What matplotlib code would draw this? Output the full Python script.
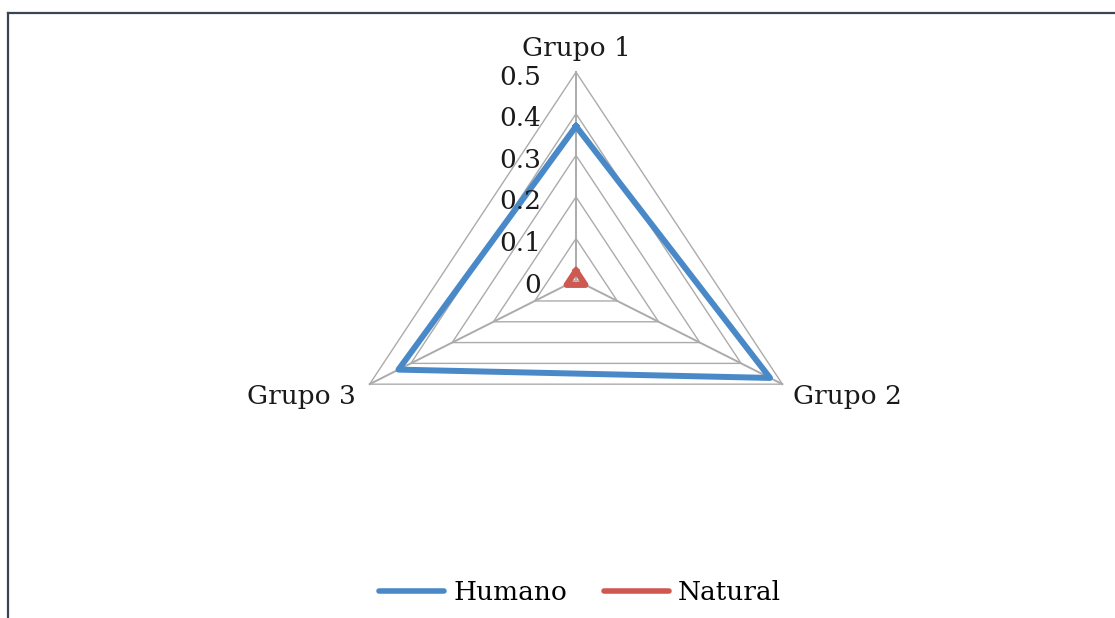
import numpy as np
import matplotlib.pyplot as plt
from matplotlib.lines import Line2D

# categories and series values
grupos = ['Grupo 1', 'Grupo 2', 'Grupo 3']
humano = [0.37, 0.47, 0.43]
natural = [0.023, 0.023, 0.023]
niveles = [0.1, 0.2, 0.3, 0.4, 0.5]
etiquetas_nivel = ['0', '0.1', '0.2', '0.3', '0.4', '0.5']

plt.rcParams['font.family'] = ['DejaVu Serif']

# angles: Grupo 1 on top, going clockwise
ang = np.deg2rad([90, -30, 210])


def to_xy(vals):
    v = np.asarray(vals, dtype=float)
    x = v * np.cos(ang)
    y = v * np.sin(ang)
    return np.append(x, x[0]), np.append(y, y[0])


fig = plt.figure(figsize=(11.15, 6.18), dpi=100)
# axes stretched a little horizontally, like the original Excel chart
ax = fig.add_axes([0.2601, 0.3447, 0.513, 0.5722])
ax.set_xlim(-0.6, 0.6)
ax.set_ylim(-0.3, 0.55)
ax.axis('off')

fs = 19
txt_color = '#1a1a1a'
blue = '#4a89c8'
red = '#cd5951'
grid_color = '#ababab'

for lv in niveles:
    gx, gy = to_xy([lv] * 3)
    ax.plot(gx, gy, color=grid_color, lw=1.0, zorder=1)
for a in ang:
    ax.plot([0, 0.5 * np.cos(a)], [0, 0.5 * np.sin(a)], color=grid_color, lw=1.4, zorder=1)

hx, hy = to_xy(humano)
ax.plot(hx, hy, color=blue, lw=4.3, solid_joinstyle='round', zorder=3)
nx, ny = to_xy(natural)
ax.plot(nx, ny, color=red, lw=4.3, solid_joinstyle='round', zorder=3)

# radial tick labels
for i, lab in enumerate(etiquetas_nivel):
    ax.text(-0.073, i * 0.1 - 0.012, lab, ha='right', va='center', fontsize=fs, color=txt_color)

# category labels
ax.text(0.0, 0.556, grupos[0], ha='center', va='center', fontsize=fs, color=txt_color)
ax.text(0.455, -0.279, grupos[1], ha='left', va='center', fontsize=fs, color=txt_color)
ax.text(-0.461, -0.279, grupos[2], ha='right', va='center', fontsize=fs, color=txt_color)

handles = [Line2D([], [], color=blue, lw=4.0, solid_capstyle='round'),
           Line2D([], [], color=red, lw=4.0, solid_capstyle='round')]
fig.legend(handles, ['Humano', 'Natural'], loc='center', bbox_to_anchor=(580 / 1115, 1 - 593 / 618),
           ncol=2, frameon=False, fontsize=fs, handlelength=2.45, handletextpad=0.35,
           columnspacing=1.4, borderpad=0, borderaxespad=0)

# partial frame of the original screenshot
fig.add_artist(Line2D([8 / 1115, 8 / 1115], [0, 1 - 13 / 618], transform=fig.transFigure,
                      color='#3b4452', lw=1.6))
fig.add_artist(Line2D([8 / 1115, 1], [1 - 13 / 618, 1 - 13 / 618], transform=fig.transFigure,
                      color='#3b4452', lw=1.6))

fig.savefig('out.png', dpi=100)
